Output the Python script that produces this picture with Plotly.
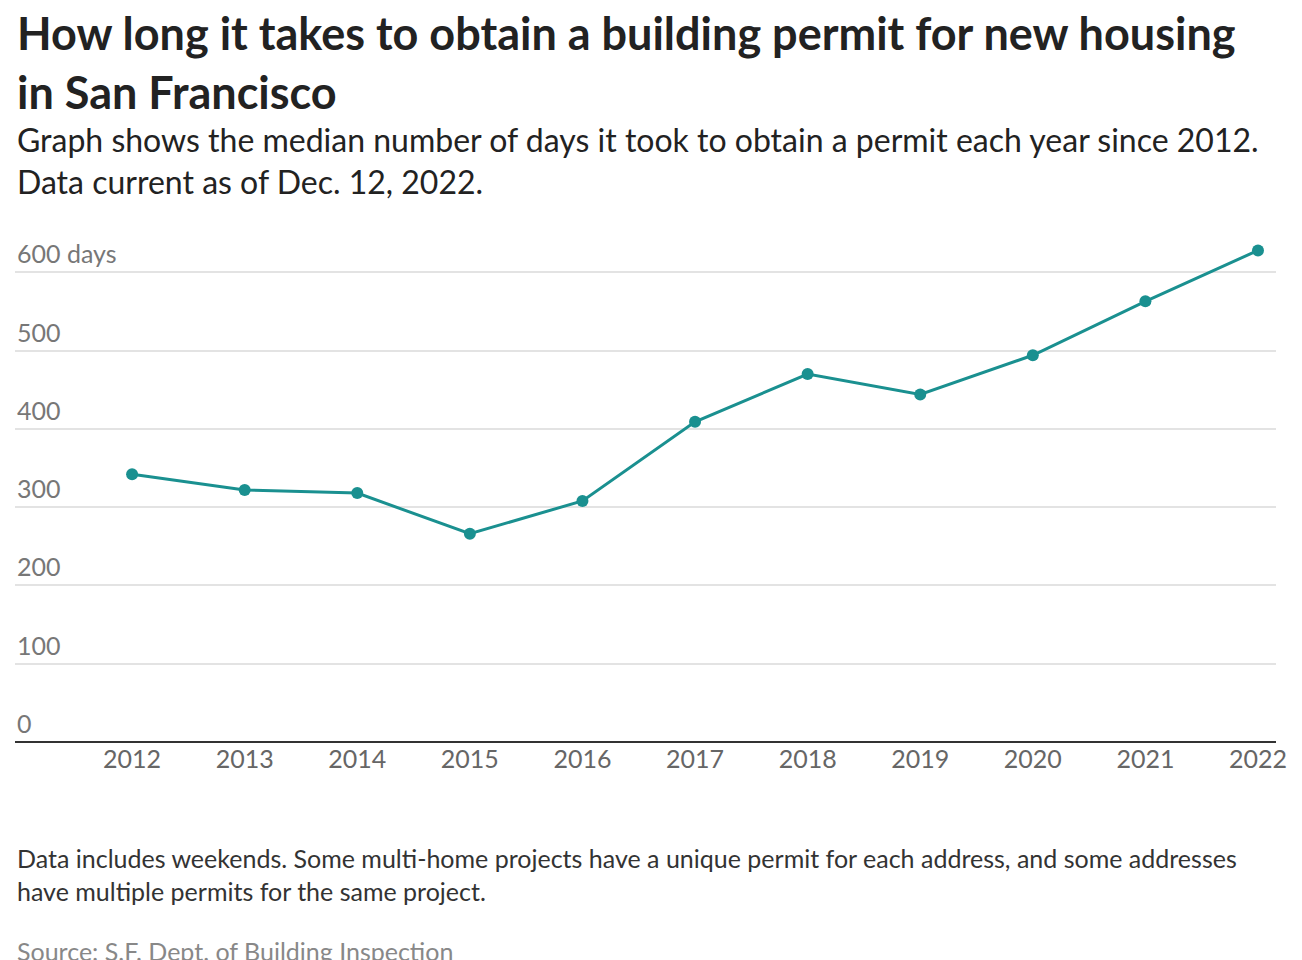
import plotly.graph_objects as go

years = list(range(2012, 2023))
days = [342, 322, 318, 266, 308, 409, 470, 444, 494, 563, 628]
y_ticks = [0, 100, 200, 300, 400, 500, 600]
y_labels = ["0", "100", "200", "300", "400", "500", "600 days"]

teal = "#1a9090"
fig = go.Figure(go.Scatter(x=years, y=days, mode="lines+markers",
                           line=dict(color=teal, width=3),
                           marker=dict(color=teal, size=12)))

TOP, BOT = 233, 734
def py(px): return (BOT - px) / (BOT - TOP)

ann = []
for v, t in zip(y_ticks, y_labels):
    ann.append(dict(x=0, xref="paper", y=v, yref="y", text=t, showarrow=False,
                    xanchor="left", yanchor="bottom", yshift=2,
                    font=dict(family="Lato", size=25, color="#777")))
ann += [
    dict(x=0, xref="paper", y=py(-4), yref="paper", xanchor="left", yanchor="top", showarrow=False, align="left",
         text="<b>How long it takes to obtain a building permit for new housing<br>in San Francisco</b>",
         font=dict(family="Lato", size=45, color="#222")),
    dict(x=0, xref="paper", y=py(110), yref="paper", xanchor="left", yanchor="top", showarrow=False, align="left",
         text="Graph shows the median number of days it took to obtain a permit each year since 2012.<br>Data current as of Dec. 12, 2022.",
         font=dict(family="Lato", size=32, color="#222")),
    dict(x=0, xref="paper", y=py(833), yref="paper", xanchor="left", yanchor="top", showarrow=False, align="left",
         text="Data includes weekends. Some multi-home projects have a unique permit for each address, and some addresses<br>have multiple permits for the same project.",
         font=dict(family="Lato", size=25, color="#333")),
    dict(x=0, xref="paper", y=py(926), yref="paper", xanchor="left", yanchor="top", showarrow=False, align="left",
         text="Source: <u>S.F. Dept. of Building Inspection</u>",
         font=dict(family="Lato", size=25, color="#888")),
]

fig.update_layout(
    width=1302, height=960, plot_bgcolor="white", paper_bgcolor="white",
    margin=dict(l=7, r=34, t=TOP, b=960 - BOT), showlegend=False,
    annotations=ann,
    xaxis=dict(range=[2010.96, 2022.16], tickvals=years, showgrid=False, zeroline=False,
               showline=False, ticks="", tickfont=dict(family="Lato", size=25, color="#666")),
    yaxis=dict(range=[0, 640], tickvals=y_ticks, showticklabels=False, gridcolor="#e3e3e3",
               gridwidth=1.5, zeroline=True, zerolinecolor="#333", zerolinewidth=2),
)
fig.write_html("out.html")
